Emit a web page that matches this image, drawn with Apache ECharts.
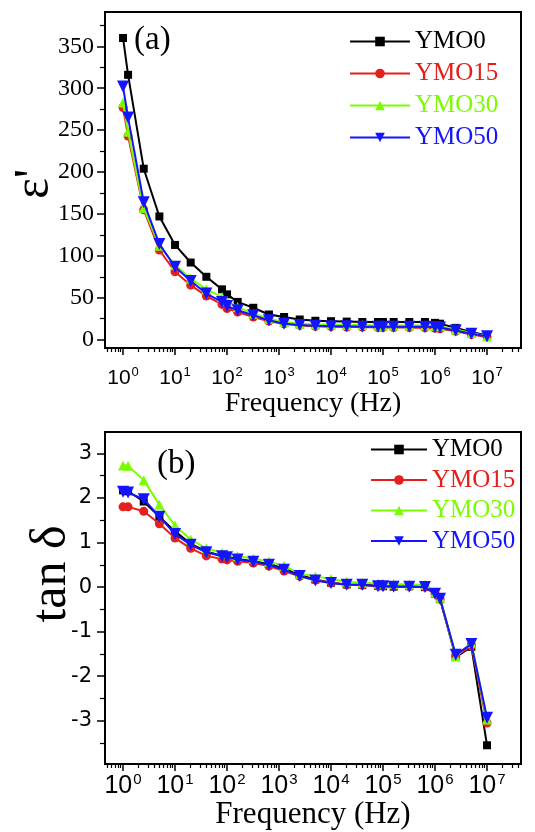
<!DOCTYPE html>
<html><head><meta charset="utf-8">
<script src="https://cdn.jsdelivr.net/npm/echarts@6/dist/echarts.min.js"></script>
<style>html,body{margin:0;padding:0;background:#fff}#c{width:535px;height:832px}</style>
</head><body><div id="c"></div>
<script>
// ---- data ----
const freq = [1, 1.25, 2.5, 5, 10, 20, 40, 80, 100, 160, 320, 640, 1250, 2500, 5000,
  1e4, 2e4, 4e4, 8e4, 1e5, 1.6e5, 3.2e5, 6.4e5, 1e6, 1.25e6, 2.5e6, 5e6, 1e7];
const seriesNames = ['YMO0', 'YMO15', 'YMO30', 'YMO50'];

const epsYMO0  = [360, 316, 204, 147, 113, 92, 75, 60, 54, 45, 38, 30, 27, 24, 22.5, 22, 21.5, 21, 21, 21, 21, 21, 21, 20, 19, 14, 9, 5];
const epsYMO15 = [277, 243, 155, 107, 81, 65, 52, 42, 37, 33, 27, 22, 19, 17, 16, 15.5, 15, 15, 14.5, 14.5, 14.5, 14.5, 14, 13.5, 13, 10, 6, 3];
const epsYMO30 = [283, 248, 157, 112, 89, 73, 60, 51, 46, 39, 31, 25, 21, 19, 18, 18, 17.5, 17.5, 17, 17, 17, 17, 17, 16.5, 16, 12, 8, 4];
const epsYMO50 = [302, 265, 164, 114, 87, 70, 55, 45, 40, 35, 29, 23, 19, 17.5, 16.5, 16, 16, 15.5, 15.5, 15.5, 15.5, 15.5, 15.5, 15, 14.5, 11, 7, 4];

const tanYMO0  = [2.17, 2.15, 1.92, 1.58, 1.25, 0.97, 0.80, 0.70, 0.68, 0.63, 0.58, 0.52, 0.42, 0.27, 0.17, 0.10, 0.06, 0.05, 0.03, 0.02, 0.01, 0.02, 0.00, -0.15, -0.27, -1.57, -1.34, -3.55];
const tanYMO15 = [1.80, 1.80, 1.70, 1.42, 1.10, 0.87, 0.70, 0.63, 0.61, 0.58, 0.54, 0.47, 0.36, 0.24, 0.16, 0.09, 0.05, 0.04, 0.02, 0.02, 0.01, 0.01, 0.00, -0.15, -0.27, -1.55, -1.32, -3.05];
const tanYMO30 = [2.73, 2.72, 2.40, 1.85, 1.38, 1.07, 0.87, 0.77, 0.74, 0.69, 0.64, 0.57, 0.48, 0.30, 0.24, 0.18, 0.12, 0.10, 0.08, 0.08, 0.07, 0.06, 0.05, -0.12, -0.24, -1.55, -1.25, -2.97];
const tanYMO50 = [2.14, 2.12, 1.97, 1.58, 1.19, 0.95, 0.78, 0.69, 0.67, 0.62, 0.57, 0.50, 0.39, 0.25, 0.15, 0.09, 0.05, 0.05, 0.02, 0.02, 0.01, 0.01, 0.00, -0.15, -0.26, -1.52, -1.28, -2.93];

const xMajorTicks = [1, 10, 100, 1e3, 1e4, 1e5, 1e6, 1e7];
const epsTicks = [0, 50, 100, 150, 200, 250, 300, 350];
const epsMinorTicks = [25, 75, 125, 175, 225, 275, 325, 375];
const tanTicks = [-3, -2, -1, 0, 1, 2, 3];
const tanMinorTicks = [-3.5, -2.5, -1.5, -0.5, 0.5, 1.5, 2.5];

// ---- styling ----
const colors = ['#000000', '#E3201B', '#7CFC00', '#1414FF'];
const symbols = ['rect', 'circle', 'triangle', 'triangle'];
const rotates = [0, 0, 0, 180];
const sizes = [8, 9, 10, 12];
const SERIF = 'Liberation Serif';
const SANS = 'Liberation Sans';

const XMIN = 0.45, XMAX = 4.5e7;
const xMinorTicks = [];
for (let e = -1; e <= 7; e++) for (let m = 2; m <= 9; m++) {
  const v = m * Math.pow(10, e);
  if (v >= XMIN && v <= XMAX) xMinorTicks.push(+v.toPrecision(3));
}

function xMain(gi, fs, sfs, margin, name, nameGap, nameFs) {
  return {
    type: 'log', logBase: 10, gridIndex: gi, min: XMIN, max: XMAX, position: 'bottom',
    name: name, nameLocation: 'middle', nameGap: nameGap,
    nameTextStyle: { fontFamily: SERIF, fontSize: nameFs, color: '#000' },
    axisLine: { show: true, onZero: false, lineStyle: { color: '#000', width: 2 } },
    axisTick: { show: true, length: 7, customValues: xMajorTicks, lineStyle: { color: '#000', width: 1.5 } },
    axisLabel: {
      customValues: xMajorTicks, margin: margin, color: '#000',
      formatter: v => '{b|10}{s|' + Math.round(Math.log10(v)) + '}',
      rich: { b: { fontFamily: SANS, fontSize: fs, color: '#000' },
              s: { fontFamily: SANS, fontSize: sfs, color: '#000', padding: [0, 0, fs * 0.55, 1] } }
    },
    splitLine: { show: false }, minorTick: { show: false }
  };
}
function xMinor(gi) {
  return {
    type: 'log', logBase: 10, gridIndex: gi, min: XMIN, max: XMAX, position: 'bottom',
    axisLine: { show: false, onZero: false }, axisLabel: { show: false }, splitLine: { show: false },
    axisTick: { show: true, length: 4, customValues: xMinorTicks, lineStyle: { color: '#000', width: 1.2 } }
  };
}
function yMain(gi, min, max, ticks, font, fs, margin) {
  return {
    type: 'value', gridIndex: gi, min: min, max: max, position: 'left',
    axisLine: { show: true, onZero: false, lineStyle: { color: '#000', width: 2 } },
    axisTick: { show: true, length: 8, customValues: ticks, lineStyle: { color: '#000', width: 1.5 } },
    axisLabel: { customValues: ticks, fontFamily: font, fontSize: fs, color: '#000', margin: margin },
    splitLine: { show: false }
  };
}
function yMinor(gi, min, max, ticks) {
  return {
    type: 'value', gridIndex: gi, min: min, max: max, position: 'left',
    axisLine: { show: false, onZero: false }, axisLabel: { show: false }, splitLine: { show: false },
    axisTick: { show: true, length: 5, customValues: ticks, lineStyle: { color: '#000', width: 1.2 } }
  };
}
function makeSeries(datasets, xi, yi) {
  return datasets.map((d, i) => ({
    name: seriesNames[i], type: 'line', xAxisIndex: xi, yAxisIndex: yi,
    data: freq.map((f, k) => [f, d[k]]),
    symbol: symbols[i], symbolSize: sizes[i], symbolRotate: rotates[i], showAllSymbol: true,
    lineStyle: { color: colors[i], width: 2 },
    itemStyle: { color: colors[i] },
    z: 2 + i, animation: false
  }));
}
function legend(left, top, itemWidth, gap) {
  return {
    orient: 'vertical', left: left, top: top, padding: 0, itemWidth: itemWidth, itemHeight: 12, itemGap: gap,
    selectedMode: false,
    textStyle: { fontFamily: SERIF, fontSize: 25, lineHeight: 25, padding: [0, 0, 0, 0] },
    data: seriesNames.map((n, i) => ({ name: n, textStyle: { color: colors[i] } }))
  };
}

const chart = echarts.init(document.getElementById('c'), null, { renderer: 'canvas' });
chart.setOption({
  backgroundColor: '#fff',
  animation: false,
  grid: [
    { left: 105, top: 12, width: 416, height: 336, show: true, borderColor: '#000', borderWidth: 2, backgroundColor: 'transparent' },
    { left: 105, top: 432, width: 416, height: 332, show: true, borderColor: '#000', borderWidth: 2, backgroundColor: 'transparent' }
  ],
  xAxis: [
    xMain(0, 21, 13, 18, 'Frequency (Hz)', 40, 28), xMinor(0),
    xMain(1, 25, 15, 8, 'Frequency (Hz)', 30, 31), xMinor(1)
  ],
  yAxis: [
    yMain(0, -10, 391, epsTicks, SERIF, 24, 11), yMinor(0, -10, 391, epsMinorTicks),
    yMain(1, -3.97, 3.48, tanTicks, 'DejaVu Sans', 21, 13), yMinor(1, -3.97, 3.48, tanMinorTicks)
  ],
  legend: [legend(349, 29, 60, 7), legend(370, 437, 56, 5.5)],
  graphic: [
    { type: 'text', left: 134, top: 24, style: { text: '(a)', fontFamily: SERIF, fontSize: 33, fill: '#000' } },
    { type: 'text', left: 157, top: 448, style: { text: '(b)', fontFamily: SERIF, fontSize: 33, fill: '#000' } },
    { type: 'text', x: 35, y: 184, rotation: Math.PI / 2,
      style: { text: "ε'", fontFamily: SERIF, fontSize: 50, fill: '#000', align: 'center', verticalAlign: 'middle' } },
    { type: 'text', x: 52, y: 574, rotation: Math.PI / 2,
      style: { text: 'tan δ', fontFamily: SERIF, fontSize: 50, fill: '#000', align: 'center', verticalAlign: 'middle' } }
  ],
  series: [
    ...makeSeries([epsYMO0, epsYMO15, epsYMO30, epsYMO50], 0, 0),
    ...makeSeries([tanYMO0, tanYMO15, tanYMO30, tanYMO50], 2, 2)
  ]
});
</script></body></html>
